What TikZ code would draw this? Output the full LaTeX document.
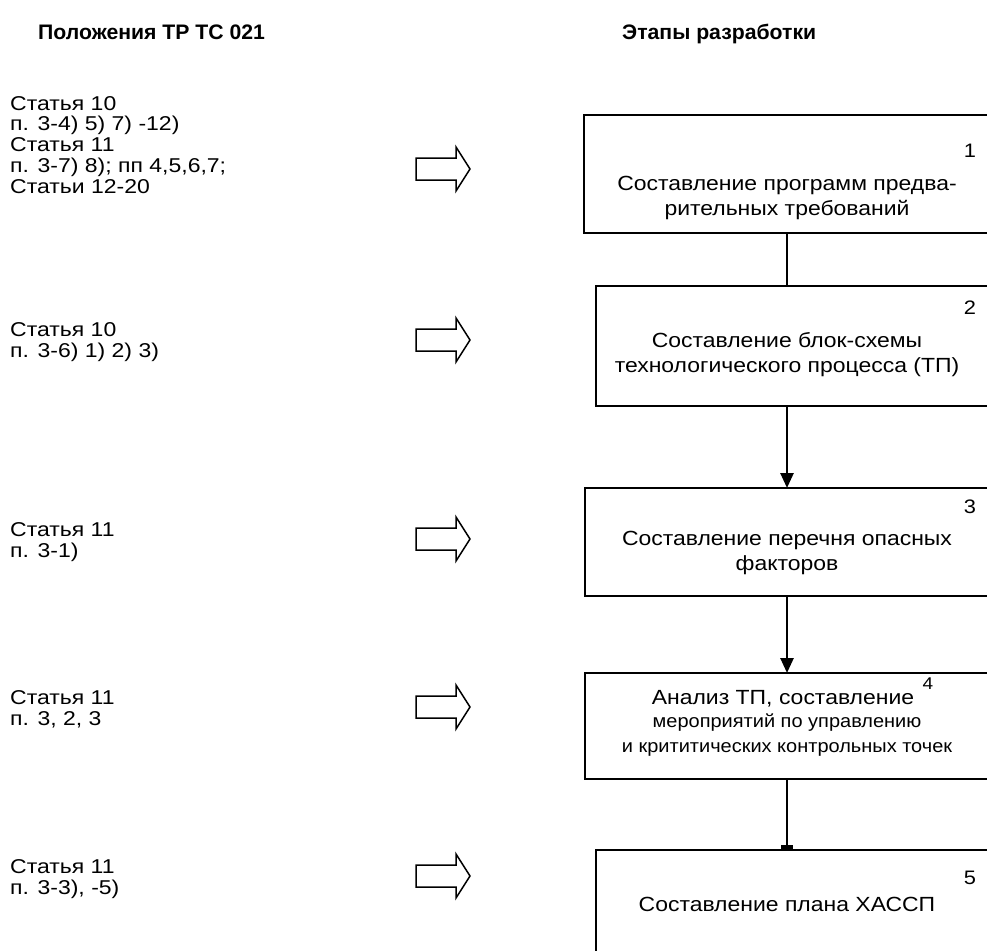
\documentclass[tikz,border=0pt]{standalone}
\usepackage{fontspec}
\setmainfont{Liberation Sans}
\newfontfamily\leftfont[FakeStretch=1.15]{Liberation Sans}
\newfontfamily\boxfont[FakeStretch=1.12]{Liberation Sans}
\newfontfamily\smallfont[FakeStretch=1.08]{Liberation Sans}
\newfontfamily\headfont[FakeStretch=1.01]{Liberation Sans}
\usetikzlibrary{arrows.meta}
\begin{document}
\begin{tikzpicture}[x=1pt,y=-1pt,
  hdr/.style={font=\headfont\bfseries\fontsize{21}{24}\selectfont, inner sep=0pt, anchor=base west},
  ltxt/.style={font=\leftfont\fontsize{20}{20.7}\selectfont, align=left, inner sep=0pt, anchor=base west},
  stage/.style={draw, line width=1.4pt},
  btxt/.style={font=\boxfont\fontsize{20.5}{24.3}\selectfont, align=center, inner sep=0pt, anchor=base},
  bsmall/.style={font=\smallfont\fontsize{18.5}{24.3}\selectfont, align=center, inner sep=0pt, anchor=base},
  num/.style={font=\boxfont\fontsize{19.5}{21}\selectfont, inner sep=0pt, anchor=base},
  conn/.style={line width=2.6pt},
  harrow/.style={draw, line width=1.5pt, line join=miter, fill=white}
]
\useasboundingbox (0,0) rectangle (987,950);
\clip (0,0) rectangle (987,950);

% headers
\node[hdr] (h1) at (38,40) {Положения ТР ТС 021};
\node[hdr] (h2) at (622,40) {Этапы разработки};

% left texts (anchor = baseline of last line)
\node[ltxt] (l1) at (10,193) {Статья 10\\п. 3-4) 5) 7) -12)\\Статья 11\\п. 3-7) 8); пп 4,5,6,7;\\Статьи 12-20};
\node[ltxt] (l2) at (10,357) {Статья 10\\п. 3-6) 1) 2) 3)};
\node[ltxt] (l3) at (10,557) {Статья 11\\п. 3-1)};
\node[ltxt] (l4) at (10,725) {Статья 11\\п. 3, 2, 3};
\node[ltxt] (l5) at (10,894) {Статья 11\\п. 3-3), -5)};

% hollow arrows
\foreach \yy/\nm in {169/a1,340/a2,539/a3,707/a4,876/a5}{
  \draw[harrow] (416,\yy-11) -- (456,\yy-11) -- (456,\yy-22) -- (470,\yy) -- (456,\yy+22) -- (456,\yy+11) -- (416,\yy+11) -- cycle;
  \coordinate (\nm) at (470,\yy);
}

% boxes
\draw[stage] (584,115) rectangle (1000,233);
\draw[stage] (596,286) rectangle (1000,406);
\draw[stage] (585,488) rectangle (1000,596);
\draw[stage] (585,673) rectangle (1000,779);
\draw[stage] (596,850) rectangle (1000,1000);

\coordinate (b1s) at (787,233);
\coordinate (b2n) at (787,286);
\coordinate (b2s) at (787,406);
\coordinate (b3n) at (787,488);
\coordinate (b3s) at (787,596);
\coordinate (b4n) at (787,673);
\coordinate (b4s) at (787,779);
\coordinate (b5n) at (787,850);

% box texts (anchor = baseline of last line)
\node[num] (n1) at (970,157) {1};
\node[btxt] (t1) at (787,215) {Составление программ предва-\\рительных требований};
\node[num] (n2) at (970,314) {2};
\node[btxt] (t2) at (787,372) {Составление блок-схемы\\технологического процесса (ТП)};
\node[num] (n3) at (970,513) {3};
\node[btxt] (t3) at (787,570) {Составление перечня опасных\\факторов};
\node[btxt] (t4) at (783,704) {Анализ ТП, составление};
\node[num, font=\boxfont\fontsize{17}{18}\selectfont] (n4) at (928,689) {4};
\node[bsmall] (t4b) at (787,752) {мероприятий по управлению\\и крититических контрольных точек};
\node[num] (n5) at (970,884) {5};
\node[btxt] (t5) at (787,911) {Составление плана ХАССП};

% connectors
\draw[conn] (b1s) -- (b2n);
\draw[conn, -{Triangle[length=15pt,width=13pt]}] (b2s) -- (b3n);
\draw[conn, -{Triangle[length=15pt,width=13pt]}] (b3s) -- (b4n);
\draw[conn] (b4s) -- (b5n);
\fill (781,845) rectangle (793,851);
\end{tikzpicture}
\end{document}
